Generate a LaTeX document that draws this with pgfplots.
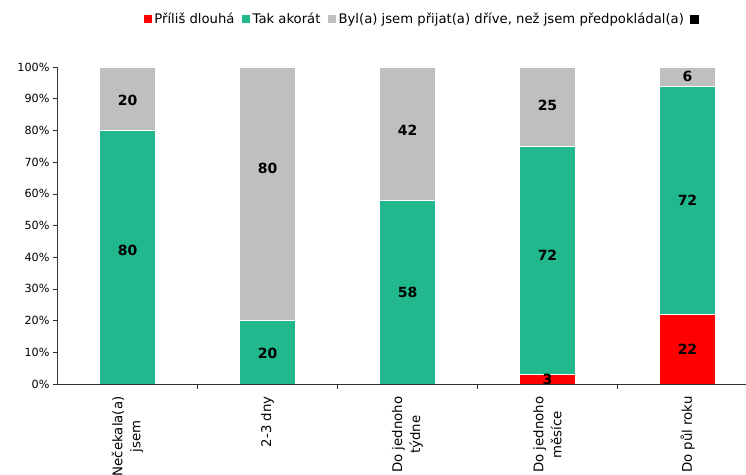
\documentclass[border=0pt]{standalone}
\usepackage{pgfplots}
\pgfplotsset{compat=1.18}
\usepackage{fontspec}
\setmainfont{DejaVu Sans}
\definecolor{cred}{RGB}{255,0,0}
\definecolor{cgreen}{RGB}{32,184,140}
\definecolor{cgray}{RGB}{191,191,191}
\pgfplotsset{
  common/.style={
    scale only axis,
    width=688.5pt, height=317pt,
    xmin=-0.5, xmax=4.418,
    ymin=0, ymax=100,
    clip=false,
    /pgf/number format/assume math mode=true,
  }
}
\begin{document}
\begin{tikzpicture}
\begin{axis}[
  common,
  name=ax,
  ybar stacked, bar width=0.4,
  axis on top,
  axis x line*=bottom, axis y line*=left,
  axis line style={black!80, line width=0.6pt, -},
  ytick={0,10,...,100},
  yticklabel={\pgfmathprintnumber{\tick}\%},
  yticklabel style={font=\fontsize{11.2}{13}\selectfont},
  tick align=outside,
  major tick length=4.5pt,
  tick style={black!80, line width=0.6pt},
  xtick={0.5,1.5,2.5,3.5},
  xticklabels={},
  extra x ticks={0,1,2,3,4},
  extra x tick labels={{Nečekala(a)\\jsem},{2-3 dny},{Do jednoho\\týdne},{Do jednoho\\měsíce},{Do půl roku}},
  extra x tick style={major tick length=0pt, tick style={draw=none}},
  xticklabel shift=9pt,
  xticklabel style={rotate=90, anchor=east, align=center, font=\fontsize{13.3}{18}\selectfont},
  legend columns=4,
  legend style={draw=none, at={(0.531,1.151)}, anchor=center, font=\fontsize{13.2}{15}\selectfont, /tikz/every even column/.append style={column sep=4.5pt}},
  legend image code/.code={\fill[#1] (0pt,-4.5pt) rectangle (9pt,4.5pt);},
]
\addplot[fill=cred, draw=white, line width=0.6pt] coordinates {(0,0) (1,0) (2,0) (3,3) (4,22)};
\addlegendentry{Příliš dlouhá}
\addplot[fill=cgreen, draw=white, line width=0.6pt] coordinates {(0,80) (1,20) (2,58) (3,72) (4,72)};
\addlegendentry{Tak akorát}
\addplot[fill=cgray, draw=white, line width=0.6pt] coordinates {(0,20) (1,80) (2,42) (3,25) (4,6)};
\addlegendentry{Byl(a) jsem přijat(a) dříve, než jsem předpokládal(a)}
\addplot[fill=black, draw=none] coordinates {(0,0) (1,0) (2,0) (3,0) (4,0)};
\addlegendentry{}
\end{axis}
\begin{axis}[
  common,
  hide axis,
  point meta=explicit,
  nodes near coords={\pgfmathprintnumber{\pgfplotspointmeta}},
  every node near coord/.append style={anchor=center, font=\bfseries\fontsize{14}{16}\selectfont, text=black},
]
\addplot[draw=none, mark=none] coordinates {(3,1.5) [3] (4,11) [22]};
\addplot[draw=none, mark=none] coordinates {(0,42) [80] (1,9.5) [20] (2,29) [58] (3,40.5) [72] (4,58) [72]};
\addplot[draw=none, mark=none] coordinates {(0,89.5) [20] (1,68) [80] (2,80) [42] (3,88) [25] (4,97) [6]};
\end{axis}
\pgfresetboundingbox
\path[use as bounding box] ([xshift=-57.5pt,yshift=-90pt]ax.south west) rectangle ([yshift=67pt]ax.north east);
\end{tikzpicture}
\end{document}
